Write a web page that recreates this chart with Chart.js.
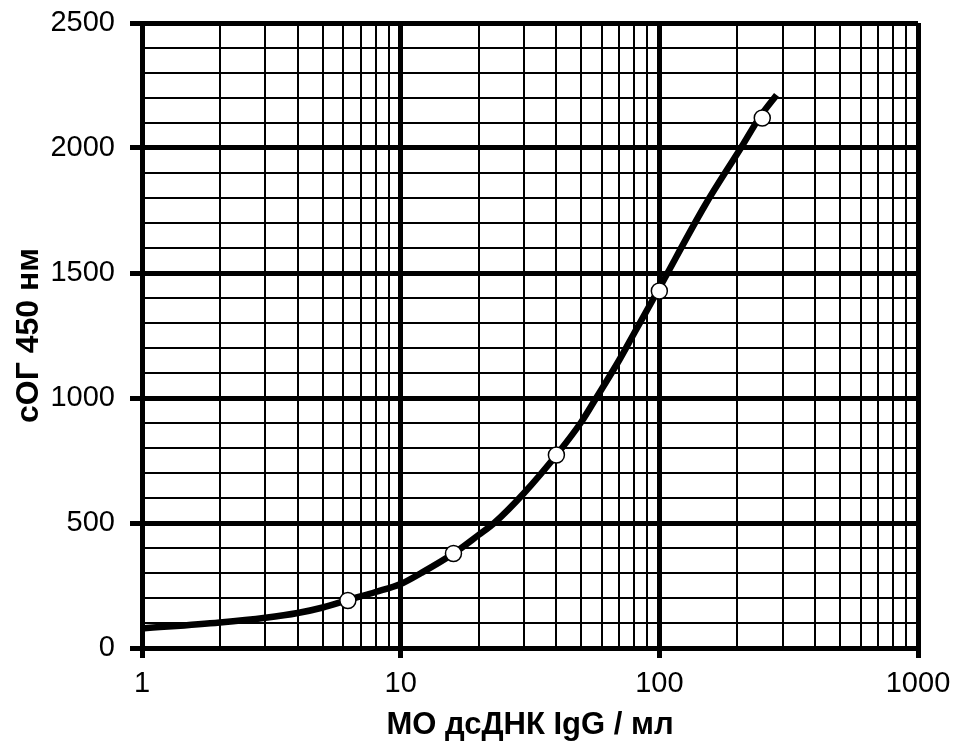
<!DOCTYPE html>
<html>
<head>
<meta charset="utf-8">
<script src="https://cdn.jsdelivr.net/npm/chart.js@4"></script>
<style>
  body { margin: 0; background: #fff; }
</style>
</head>
<body>
<canvas id="myChart" width="954" height="742"></canvas>
<script>
// measured points
var pointX = [6.25, 16, 40, 100, 250];
var pointY = [190, 378, 772, 1428, 2120];

// fitted curve
var curveX = [1, 2, 3, 4, 5, 6.25, 8, 10, 12, 16, 20, 23, 30, 40, 50, 57, 70, 80, 100, 150, 208, 245, 284];
var curveY = [78, 102, 121, 140, 162, 192, 224, 256, 300, 378, 452, 500, 620, 772, 905, 1000, 1152, 1260, 1440, 1770, 2005, 2125, 2212];

// tick values
var xTicks = [1, 2, 3, 4, 5, 6, 7, 8, 9,
              10, 20, 30, 40, 50, 60, 70, 80, 90,
              100, 200, 300, 400, 500, 600, 700, 800, 900, 1000];
var xLabels = [1, 10, 100, 1000];
var yLabels = [0, 500, 1000, 1500, 2000, 2500];

var FONT = "'Liberation Sans', Arial, sans-serif";

function isMajorX(v) { return xLabels.indexOf(v) >= 0; }
function isMajorY(v) { return yLabels.indexOf(v) >= 0; }

// labels may overhang the plot, the layout padding handles it
function noOverhang(scale) {
    scale.paddingTop = 0;
    scale.paddingBottom = 0;
    scale.paddingLeft = 0;
    scale.paddingRight = 0;
}

var ctx = document.getElementById('myChart').getContext('2d');
var chart = new Chart(ctx, {
    type: 'scatter',
    data: {
        datasets: [{
            label: 'points',
            data: pointX.map(function (x, i) { return {x: x, y: pointY[i]}; }),
            pointRadius: 8,
            pointBackgroundColor: '#fff',
            pointBorderColor: '#000',
            pointBorderWidth: 1.5,
            showLine: false,
            order: 0
        },
        {
            label: 'curve',
            data: curveX.map(function (x, i) { return {x: x, y: curveY[i]}; }),
            showLine: true,
            borderColor: '#000',
            borderWidth: 6.5,
            pointRadius: 0,
            cubicInterpolationMode: 'monotone',
            order: 1
        }]
    },
    options: {
        responsive: false,
        animation: false,
        layout: { padding: { top: 23, right: 36, left: 0, bottom: 0 } },
        plugins: {
            legend: { display: false },
            tooltip: { enabled: false }
        },
        scales: {
            x: {
                type: 'logarithmic',
                min: 1,
                max: 1000,
                afterBuildTicks: function (scale) {
                    scale.ticks = xTicks.map(function (v) { return {value: v, major: isMajorX(v)}; });
                },
                afterFit: function (scale) { scale.height = 94; noOverhang(scale); },
                ticks: {
                    autoSkip: false,
                    maxRotation: 0,
                    padding: 9,
                    color: '#000',
                    font: { family: FONT, size: 29 },
                    callback: function (value) { return isMajorX(value) ? String(value) : ''; }
                },
                grid: {
                    color: '#000',
                    lineWidth: function (c) { return c.tick && isMajorX(c.tick.value) ? 5 : 2; },
                    tickLength: 10,
                    tickWidth: 5,
                    tickColor: function (c) { return c.tick && isMajorX(c.tick.value) ? '#000' : 'rgba(0,0,0,0)'; }
                },
                border: { color: '#000', width: 5 },
                title: {
                    display: true,
                    text: 'МО дсДНК IgG / мл',
                    color: '#000',
                    font: { family: FONT, size: 31, weight: 'bold', lineHeight: 1 },
                    padding: { top: 0, bottom: 1 }
                }
            },
            y: {
                min: 0,
                max: 2500,
                afterFit: function (scale) { scale.width = 142; noOverhang(scale); },
                ticks: {
                    stepSize: 100,
                    autoSkip: false,
                    padding: 15,
                    color: '#000',
                    font: { family: FONT, size: 29 },
                    callback: function (value) { return isMajorY(value) ? String(value) : ''; }
                },
                grid: {
                    color: '#000',
                    lineWidth: function (c) { return c.tick && isMajorY(c.tick.value) ? 5 : 2; },
                    tickLength: 12,
                    tickWidth: 5,
                    tickColor: function (c) { return c.tick && isMajorY(c.tick.value) ? '#000' : 'rgba(0,0,0,0)'; }
                },
                border: { color: '#000', width: 5 },
                title: {
                    display: true,
                    text: 'сОГ 450 нм',
                    color: '#000',
                    font: { family: FONT, size: 32, weight: 'bold', lineHeight: 1 },
                    padding: { top: 13, bottom: 0 }
                }
            }
        }
    }
});
</script>
</body>
</html>
